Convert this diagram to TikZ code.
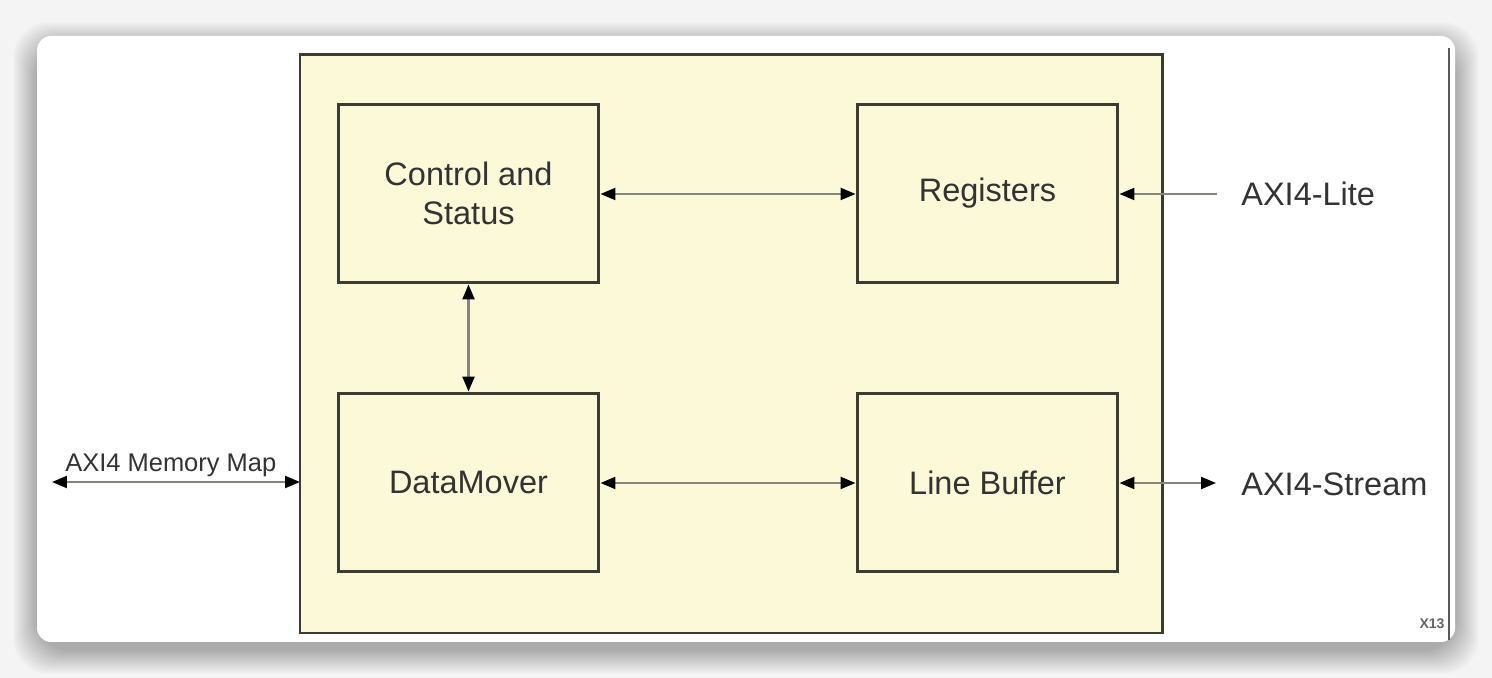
\documentclass[tikz,border=0pt]{standalone}
\usepackage{fontspec}
\setmainfont{Liberation Sans}
\usetikzlibrary{arrows.meta}
\definecolor{BlockFill}{HTML}{FCF9D9}
\definecolor{BlockLine}{HTML}{3C3C32}
\definecolor{WireGray}{HTML}{85857A}
\definecolor{PageGray}{HTML}{F4F4F4}

\tikzset{
  block/.style={draw=BlockLine, line width=1.7pt, fill=BlockFill, align=center,
    minimum width=5.22cm, minimum height=3.58cm, inner sep=0pt,
    text=black!80, font=\fontsize{18.5}{22}\selectfont},
  tip/.style={Triangle[length=0.3cm,width=0.24cm,color=black]},
  wire/.style={draw=WireGray, line width=1.3pt, {Triangle[length=0.3cm,width=0.24cm,color=black]}-{Triangle[length=0.3cm,width=0.24cm,color=black]}},
  inwire/.style={draw=WireGray, line width=1.3pt, -{Triangle[length=0.3cm,width=0.24cm,color=black]}},
  port/.style={text=black!80, font=\fontsize{18.5}{22}\selectfont, inner sep=0pt}
}

\begin{document}
\begin{tikzpicture}[x=0.02cm, y=-0.02cm]
  \useasboundingbox (0,0) rectangle (1492,678);
  % page and soft shadow
  \fill[PageGray] (0,0) rectangle (1492,678);
  \foreach \g in {1,...,24} {
    \fill[black, opacity=0.012, rounded corners=20pt] (37-\g,36-\g+10) rectangle (1455+\g,642+\g+8);
  }
  \fill[white, rounded corners=8pt] (37,36) rectangle (1455,642);
  \draw[black!65, line width=1.6pt] (1449,48) -- (1449,640);

  % core
  \draw[draw=BlockLine, line width=1.7pt, fill=BlockFill] (300,55) rectangle (1162,633);
  \node[block] (ctrl) at (468.5,193.5) {Control and\\Status};
  \node[block] (regs) at (987.5,193.5) {Registers};
  \node[block] (mover) at (468.5,482.5) {DataMover};
  \node[block] (linebuf) at (987.5,482.5) {Line Buffer};

  % ports
  \node[port, anchor=west] (axilite) at (1241,194) {AXI4-Lite};
  \node[port, anchor=west] (axistream) at (1241,484) {AXI4-Stream};
  \coordinate (streamend) at (1216,483);
  \coordinate (liteend) at (1217,194);
  \coordinate (mmleft) at (52,482);
  \coordinate (mmright) at (300,482);
  \node[text=black!80, font=\fontsize{14.5}{17}\selectfont, inner sep=0pt, anchor=south west] (axismm) at (65,477) {AXI4 Memory Map};
  \node[text=black!60, font=\fontsize{8}{9}\selectfont\bfseries, inner sep=0pt] (xnum) at (1432,624) {X13};

  \draw[wire] (ctrl.east |- 0,194) -- (regs.west |- 0,194);
  \draw[wire] (ctrl.south) -- (mover.north);
  \draw[wire] (mover.east |- 0,483) -- (linebuf.west |- 0,483);
  \draw[wire] (linebuf.east |- 0,483) -- (streamend);
  \draw[inwire] (liteend) -- (regs.east |- 0,194);
  \draw[wire] (mmleft) -- (mmright);
\end{tikzpicture}
\end{document}
